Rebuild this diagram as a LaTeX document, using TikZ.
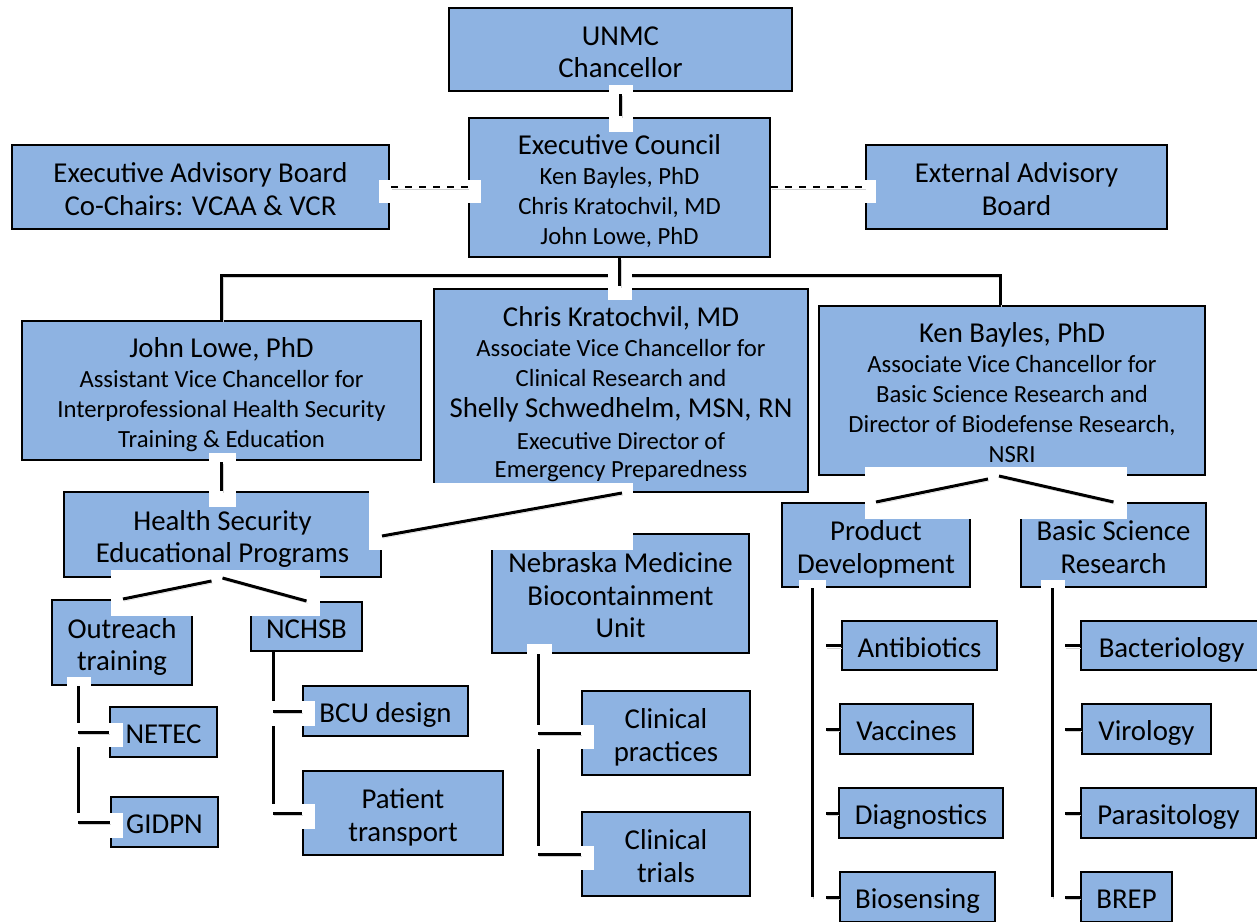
\documentclass[tikz,border=0pt]{standalone}
\usepackage{fontspec}
\setmainfont{Carlito}
\usetikzlibrary{calc}
\definecolor{boxblue}{RGB}{142,179,226}
\newcommand{\bigf}{\fontsize{28.8}{32.5}\selectfont}
\newcommand{\smf}{\fontsize{24.7}{30}\selectfont}
\newcommand{\ft}{\rule{0pt}{31.5pt}}
\begin{document}
\begin{tikzpicture}[x=1pt,y=-1pt,
  box/.style={draw=black, line width=2pt, fill=boxblue, inner sep=0pt, align=center, font=\bigf,
    execute at end node={\rule[-8pt]{0pt}{0pt}}},
  shadowed/.style={preaction={draw=black!18, transform canvas={shift={(1.2pt,-2.2pt)}}}},
  conn/.style={line width=3pt, shadowed},
  dashline/.style={line width=2pt, dash pattern=on 7pt off 7pt, shadowed},
  halo/.style={fill=white, draw=none}]
\useasboundingbox (0,0) rectangle (1257,921);

% ---------- boxes ----------
\node[box, minimum width=343pt, minimum height=83pt] (unmc) at (620.5,49.5) {\ft UNMC\\Chancellor};
\node[box, font=\smf, minimum width=301pt, minimum height=139pt] (exec) at (619.5,187.5)
  {\ft{\bigf Executive Council}\\Ken Bayles, PhD\\Chris Kratochvil, MD\\John Lowe, PhD};
\node[box, minimum width=377pt, minimum height=84pt] (eab) at (200.5,187) {\ft Executive Advisory Board\\Co-Chairs: VCAA \& VCR};
\node[box, minimum width=301pt, minimum height=84pt] (ext) at (1016.5,187) {\ft External Advisory\\Board};
\node[box, font=\smf, minimum width=399pt, minimum height=139pt] (john) at (221.5,390.5)
  {\ft{\bigf John Lowe, PhD}\\Assistant Vice Chancellor for\\Interprofessional Health Security\\Training \& Education};
\node[box, font=\smf, minimum width=374pt, minimum height=203pt] (chris) at (621,390.5)
  {\ft{\bigf Chris Kratochvil, MD}\\Associate Vice Chancellor for\\Clinical Research and\\[1pt]{\bigf Shelly Schwedhelm, MSN, RN}\\[2pt]Executive Director of\\[-2pt]Emergency Preparedness};
\node[box, font=\smf, minimum width=386pt, minimum height=169pt] (ken) at (1012,390.5)
  {\ft{\bigf Ken Bayles, PhD}\\Associate Vice Chancellor for\\Basic Science Research and\\Director of Biodefense Research,\\NSRI};
\node[box, minimum width=317pt, minimum height=85pt] (hs) at (222.5,534.5) {\ft Health Security\\Educational Programs};
\node[box, minimum width=140pt, minimum height=85pt] (outreach) at (122,642.5) {\ft Outreach\\training};
\node[box, minimum width=111pt, minimum height=49pt] (nchsb) at (306.5,626.5) {\ft NCHSB};
\node[box, minimum width=107pt, minimum height=50pt] (netec) at (163.5,732) {\ft NETEC};
\node[box, minimum width=107pt, minimum height=50pt] (gidpn) at (164.5,822) {\ft GIDPN};
\node[box, minimum width=165pt, minimum height=50pt] (bcu) at (385.5,711) {\ft BCU design};
\node[box, minimum width=200pt, minimum height=84pt] (patient) at (403,813) {\ft Patient\\transport};
\node[box, minimum width=257pt, minimum height=119pt] (nebraska) at (620.5,593.5) {\ft Nebraska Medicine\\Biocontainment\\Unit};
\node[box, minimum width=168pt, minimum height=84pt] (clinprac) at (666,733) {\ft Clinical\\practices};
\node[box, minimum width=168pt, minimum height=84pt] (clintrials) at (666,854) {\ft Clinical\\trials};
\node[box, minimum width=188pt, minimum height=84pt] (product) at (876,545) {\ft Product\\Development};
\node[box, minimum width=185pt, minimum height=84pt] (basic) at (1113.5,545) {\ft Basic Science\\Research};
\node[box, minimum width=155pt, minimum height=49pt] (antibiotics) at (919.5,645.5) {\ft Antibiotics};
\node[box, minimum width=133pt, minimum height=50pt] (vaccines) at (906.5,729) {\ft Vaccines};
\node[box, minimum width=164pt, minimum height=50pt] (diagnostics) at (921,813) {\ft Diagnostics};
\node[box, minimum width=155pt, minimum height=50pt] (biosensing) at (917.5,897) {\ft Biosensing};
\node[box, minimum width=190pt, minimum height=49pt] (bacteriology) at (1176,645.5) {\ft\hspace*{-9pt}Bacteriology};
\node[box, minimum width=129pt, minimum height=50pt] (virology) at (1146.5,729) {\ft Virology};
\node[box, minimum width=175pt, minimum height=50pt] (parasitology) at (1168.5,813) {\ft Parasitology};
\node[box, minimum width=91pt, minimum height=50pt] (brep) at (1126.5,897) {\ft BREP};

% ---------- connectors ----------
% bus from Executive Council
\draw[conn] (exec.south) -- ++(0,17) -| (john.north);
\draw[conn] (exec.south) -- ++(0,17) -| ([xshift=-12pt]ken.north);

% UNMC -> Executive Council
\fill[halo] (609,85) rectangle (633,132);
\draw[conn, shorten <=2pt, shorten >=1pt] (unmc.south) -- (unmc.south |- exec.north);

% Executive Council -> Chris
\fill[halo] (608,273) rectangle (632,300);
\draw[conn, shorten >=2pt] (exec.south) -- (exec.south |- chris.north);

% dashed advisory links
\fill[halo] (379,180) rectangle (481,203);
\draw[dashline] ([xshift=1pt]eab.east) -- (exec.west |- eab.east);
\fill[halo] (864,180) rectangle (876,203);
\draw[dashline] (exec.east |- ext.west) -- (ext.west);

% John -> Health Security
\fill[halo] (209,453) rectangle (236,507);
\draw[conn, shorten <=1pt] (john.south) -- (john.south |- hs.north);

% Chris -> Health Security
\fill[halo] (369,483) rectangle (633,550);
\draw[conn] ([xshift=1pt]chris.south) -- ([yshift=-1.5pt]hs.east);

% Health Security -> Outreach, NCHSB
\fill[halo] (111,570) rectangle (320,616);
\draw[conn] ([xshift=-11pt,yshift=-3pt]hs.south) -- ([xshift=1pt]outreach.north);
\draw[conn] (hs.south) -- (nchsb.north);

% Outreach -> NETEC, GIDPN
\coordinate (o1) at ([xshift=27pt]outreach.south west);
\fill[halo] (67,677) rectangle (91,687);
\draw[conn] (o1) -- (o1 |- gidpn.west);
\fill[halo] (75,723) rectangle (123,747);
\fill[halo] (75,813) rectangle (123,838);
\draw[conn] (o1 |- netec.west) -- (netec.west);
\draw[conn] (o1 |- gidpn.west) -- (gidpn.west);

% NCHSB -> BCU design, Patient transport
\coordinate (n1) at ([xshift=23pt]nchsb.south west);
\draw[conn] (n1) -- (n1 |- patient.west);
\fill[halo] (265,701) rectangle (315,726);
\fill[halo] (265,804) rectangle (315,829);
\draw[conn] (n1 |- bcu.west) -- (bcu.west);
\draw[conn] (n1 |- patient.west) -- (patient.west);

% Nebraska -> Clinical practices, Clinical trials
\coordinate (b1) at ([xshift=47pt]nebraska.south west);
\fill[halo] (527,644) rectangle (552,654);
\draw[conn] (b1) -- (b1 |- clintrials.west);
\fill[halo] (535,725) rectangle (594,749);
\fill[halo] (535,846) rectangle (594,870);
\draw[conn] (b1 |- clinprac.west) -- (clinprac.west);
\draw[conn] (b1 |- clintrials.west) -- (clintrials.west);

% Ken -> Product, Basic
\fill[halo] (865,467) rectangle (1127,519);
\draw[conn] ([xshift=-24pt,yshift=-3pt]ken.south) -- (product.north);
\draw[conn] ([xshift=-13pt]ken.south) -- (basic.north);

% Product -> children
\coordinate (p1) at ([xshift=31pt]product.south west);
\coordinate (p2) at ([xshift=14pt]p1);
\fill[halo] (799,580) rectangle (826,589);
\draw[conn] (p1) -- (p1 |- biosensing.west);
\foreach \c in {antibiotics,vaccines,diagnostics,biosensing}
  \draw[conn] (\c.west -| p2) -- (\c.west);

% Basic -> children
\coordinate (q1) at ([xshift=32pt]basic.south west);
\coordinate (q2) at ([xshift=13pt]q1);
\fill[halo] (1041,580) rectangle (1065,589);
\draw[conn] (q1) -- (q1 |- brep.west);
\foreach \c in {bacteriology,virology,parasitology,brep}
  \draw[conn] (\c.west -| q2) -- (\c.west);
\end{tikzpicture}
\end{document}
